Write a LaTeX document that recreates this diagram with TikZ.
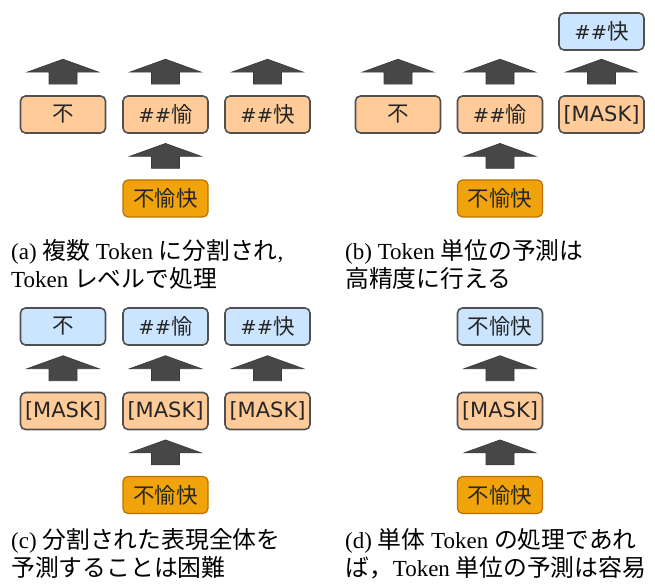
\documentclass[tikz,border=0pt]{standalone}
\usepackage{fontspec}
\usetikzlibrary{calc}
\setmainfont{Liberation Serif}
\newfontfamily\jp{Noto Sans CJK JP}
\newfontfamily\dv{DejaVu Sans}
\newcommand\J[1]{{\jp\fontsize{23.8}{28}\selectfont #1}}
\newcommand\Hs{{\dv\fontsize{19.5}{22}\selectfont\#\#}}
\newcommand\Mk{{\dv\fontsize{21}{22}\selectfont[MASK]}}
\definecolor{orl}{HTML}{FFCC99}
\definecolor{bll}{HTML}{CCE5FF}
\definecolor{ord}{HTML}{F0A30A}
\definecolor{ordd}{HTML}{BD7000}
\definecolor{bdr}{HTML}{505050}
\definecolor{arr}{HTML}{474747}
\tikzset{
  tok/.style={rounded corners=5pt, line width=1.6pt, draw=bdr, minimum width=85pt, minimum height=37pt, inner sep=0pt, text=black!85, font=\jp\fontsize{21.5}{22}\selectfont},
  orbox/.style={tok, fill=orl},
  blbox/.style={tok, fill=bll},
  srcbox/.style={tok, fill=ord, draw=ordd, line width=1.2pt},
  blockup/.pic={\filldraw[fill=arr, draw=arr!80!black, line width=0.6pt] (-14,0) -- (-14,-12) -- (-36,-12) -- (0,-25) -- (36,-12) -- (14,-12) -- (14,0) -- cycle;},
  captext/.style={anchor=north west, inner sep=0pt, align=left, font=\fontsize{23}{28}\selectfont}
}
\begin{document}
\begin{tikzpicture}[x=1pt,y=-1pt]
\useasboundingbox (0,0) rectangle (655,585);
% ---------- (a)
\node[orbox] (a1) at (63,114.5) {不};
\node[orbox] (a2) at (165.5,114.5) {\Hs 愉};
\node[orbox] (a3) at (267.5,114.5) {\Hs 快};
\node[srcbox] (a0) at (165.5,198.5) {不愉快};
\pic at ($(a1.north)+(0,-11)$) {blockup};
\pic at ($(a2.north)+(0,-11)$) {blockup};
\pic at ($(a3.north)+(0,-11)$) {blockup};
\pic at ($(a0.north)+(0,-11)$) {blockup};
\node[captext] (capa) at (11,239) {(a) \J{複数} Token \J{に分割され},\\Token \J{レベルで処理}};
% ---------- (b)
\node[orbox] (b1) at (398,114.5) {不};
\node[orbox] (b2) at (500,114.5) {\Hs 愉};
\node[orbox] (b3) at (601.5,114.5) {\Mk};
\node[blbox] (b4) at (601.5,31.5) {\Hs 快};
\node[srcbox] (b0) at (500,198.5) {不愉快};
\pic at ($(b1.north)+(0,-11)$) {blockup};
\pic at ($(b2.north)+(0,-11)$) {blockup};
\pic at ($(b3.north)+(0,-11)$) {blockup};
\pic at ($(b0.north)+(0,-11)$) {blockup};
\node[captext] (capb) at (345,239) {(b) Token \J{単位の予測は}\\\J{高精度に行える}};
% ---------- (c)
\node[blbox] (c4) at (63,326.5) {不};
\node[blbox] (c5) at (165.5,326.5) {\Hs 愉};
\node[blbox] (c6) at (267.5,326.5) {\Hs 快};
\node[orbox] (c1) at (63,411) {\Mk};
\node[orbox] (c2) at (165.5,411) {\Mk};
\node[orbox] (c3) at (267.5,411) {\Mk};
\node[srcbox] (c0) at (165.5,495) {不愉快};
\pic at ($(c1.north)+(0,-11)$) {blockup};
\pic at ($(c2.north)+(0,-11)$) {blockup};
\pic at ($(c3.north)+(0,-11)$) {blockup};
\pic at ($(c0.north)+(0,-11)$) {blockup};
\node[captext] (capc) at (11,528) {(c) \J{分割された表現全体を}\\\J{予測することは困難}};
% ---------- (d)
\node[blbox] (d2) at (500,326.5) {不愉快};
\node[orbox] (d1) at (500,411) {\Mk};
\node[srcbox] (d0) at (500,495) {不愉快};
\pic at ($(d1.north)+(0,-11)$) {blockup};
\pic at ($(d0.north)+(0,-11)$) {blockup};
\node[captext] (capd) at (345,528) {(d) \J{単体} Token \J{の処理であれ}\\\J{ば，}Token \J{単位の予測は容易}};
\end{tikzpicture}
\end{document}
